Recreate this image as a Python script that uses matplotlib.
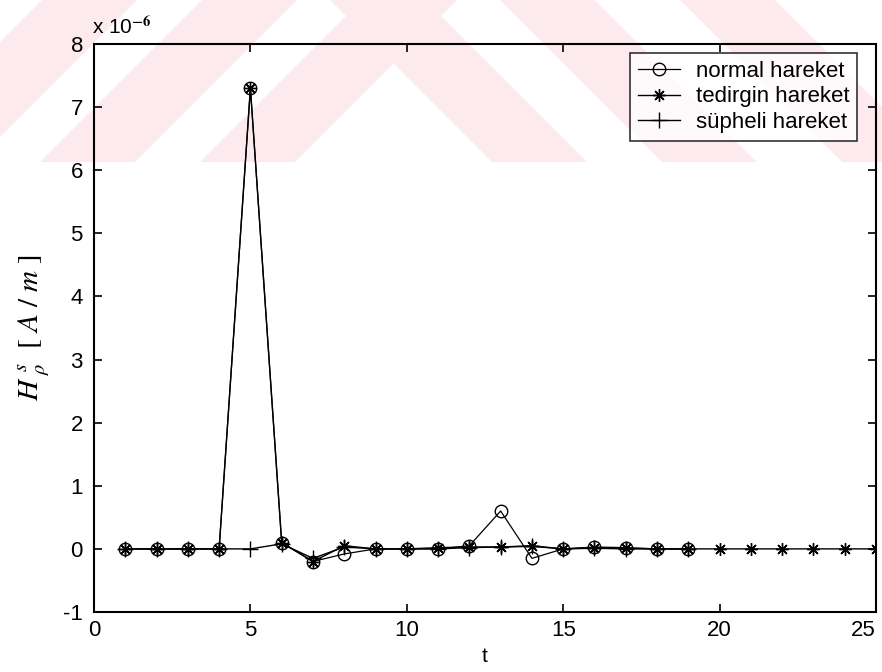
import matplotlib.pyplot as plt
from matplotlib.patches import Polygon

plt.rcParams['font.family'] = ['Liberation Sans', 'DejaVu Sans']
plt.rcParams['mathtext.fontset'] = 'stix'
plt.rcParams['axes.unicode_minus'] = False

# values in units of 1e-6 A/m
t_normal = list(range(1, 20))
normal = [0, 0, 0, 0, 7.3, 0.1, -0.2, -0.08, 0, 0, 0, 0.05, 0.6, -0.15, 0, 0.03, 0.02, 0, 0]
t_tedirgin = list(range(1, 26))
tedirgin = [0, 0, 0, 0, 7.3, 0.1, -0.2, 0.05, 0, 0, 0.02, 0.03, 0.03, 0.05, 0, 0.02, 0.01,
            0, 0, 0, 0, 0, 0, 0, 0]
t_supheli = list(range(1, 20))
supheli = [0, 0, 0, 0, 0, 0.08, -0.15, 0.03, 0, 0, 0, 0.02, 0.03, 0.04, 0, 0.01, 0, 0, 0]

labels = ['normal hareket', 'tedirgin hareket', 'süpheli hareket']

W, H = 882, 672
fig = plt.figure(figsize=(W / 100, H / 100), dpi=100)

# faint pink watermark stripes at the top (pixel coords, y down)
pink = '#fdeaee'
def px(x, y):
    return (x / W, 1 - y / H)
band = 162
for a in [-120, 40, 200]:
    pts = [px(a, band), px(a + 95, band), px(a + 95 + band, 0), px(a + band, 0)]
    fig.patches.append(Polygon(pts, closed=True, transform=fig.transFigure,
                               facecolor=pink, edgecolor='none', zorder=-5))
for c in [330, 500, 680]:
    pts = [px(c, 0), px(c + 95, 0), px(c + 95 + band, band), px(c + band, band)]
    fig.patches.append(Polygon(pts, closed=True, transform=fig.transFigure,
                               facecolor=pink, edgecolor='none', zorder=-5))

ax = fig.add_axes([94 / W, 1 - 612 / H, (876 - 94) / W, (612 - 44) / H])
ax.patch.set_alpha(0)

ax.plot(t_normal, normal, color='black', lw=0.9, marker='o', ms=9, mfc='none', mec='black',
        mew=1.0, label=labels[0])
ax.plot(t_tedirgin, tedirgin, color='black', lw=1.0, marker=(8, 2, 0), ms=9, mew=1.0,
        label=labels[1])
ax.plot(t_supheli, supheli, color='black', lw=1.0, marker='+', ms=11, mew=1.0,
        label=labels[2])

ax.set_xlim(0, 25)
ax.set_ylim(-1, 8)
ax.set_xticks([0, 5, 10, 15, 20, 25])
ax.set_yticks(range(-1, 9))
ax.tick_params(direction='in', length=6, width=1.2, top=True, right=True, labelsize=16)
ax.tick_params(axis='y', pad=8)
ax.tick_params(axis='x', pad=6)
ax.get_xticklabels()[-1].set_horizontalalignment('right')
for s in ax.spines.values():
    s.set_linewidth(1.5)

ax.text(-0.002, 1.01, r'x 10$^{\mathbf{-6}}$', transform=ax.transAxes, fontsize=15,
        ha='left', va='bottom')

ax.set_xlabel('t', fontsize=15, labelpad=4)
ax.set_ylabel(r'$H^{\ s}_{\ \rho}\ \ \left[\ A\ /\ m\ \right]$', fontsize=21, labelpad=8)

leg = ax.legend(loc='upper right', fontsize=16, frameon=True, fancybox=False,
                edgecolor='black', handlelength=1.9, handletextpad=0.7, borderpad=0.35,
                labelspacing=0.2, borderaxespad=0, bbox_to_anchor=(0.9757, 0.984))
leg.get_frame().set_linewidth(1.2)

fig.savefig('out.png', dpi=100)
